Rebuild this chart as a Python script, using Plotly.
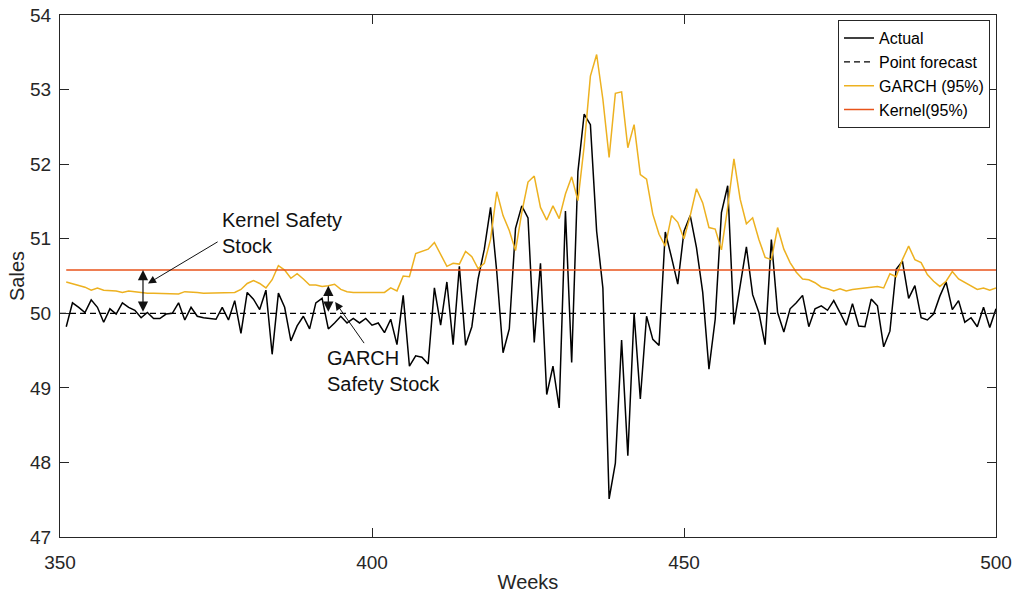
import plotly.graph_objects as go

weeks = list(range(351, 501))

actual = [
    49.82, 50.14, 50.08, 50.01, 50.18, 50.08, 49.88, 50.06, 49.99, 50.14,
    50.08, 50.04, 49.94, 50.01, 49.93, 49.93, 49.99, 50.00, 50.14, 49.91,
    50.08, 49.96, 49.94, 49.93, 49.92, 50.08, 49.91, 50.17, 49.73, 50.28,
    50.19, 50.05, 50.31, 49.45, 50.27, 50.08, 49.63, 49.83, 49.96, 49.79,
    50.14, 50.20, 49.79, 49.87, 49.96, 49.87, 49.93, 49.87, 49.93, 49.84,
    49.87, 49.74, 49.92, 49.58, 50.24, 49.29, 49.43, 49.41, 49.32, 50.34,
    49.84, 50.42, 49.58, 50.63, 49.57, 49.82, 50.46, 50.86, 51.42, 50.55,
    49.47, 49.79, 51.14, 51.44, 51.28, 49.61, 50.67, 48.91, 49.29, 48.73,
    51.37, 49.34, 51.90, 52.67, 52.53, 51.10, 50.34, 47.51, 47.99, 49.64,
    48.09, 50.00, 48.85, 49.96, 49.65, 49.57, 51.09, 50.75, 50.39, 51.10,
    51.31, 50.88, 50.28, 49.25, 49.92, 51.35, 51.71, 49.85, 50.37, 50.89,
    50.25, 50.01, 49.58, 50.99, 50.01, 49.75, 50.06, 50.14, 50.24, 49.82,
    50.06, 50.10, 50.04, 50.17, 50.01, 49.84, 50.13, 49.83, 49.82, 50.19,
    50.10, 49.55, 49.76, 50.59, 50.70, 50.20, 50.37, 49.94, 49.91, 49.99,
    50.23, 50.42, 50.05, 50.17, 49.88, 49.94, 49.82, 50.08, 49.81, 50.06,
]

garch = [
    50.42, 50.40, 50.38, 50.35, 50.31, 50.34, 50.31, 50.31, 50.30, 50.28,
    50.30, 50.29, 50.28, 50.27, 50.27, 50.27, 50.27, 50.26, 50.26, 50.29,
    50.29, 50.28, 50.27, 50.27, 50.27, 50.27, 50.28, 50.28, 50.32, 50.40,
    50.44, 50.40, 50.34, 50.45, 50.64, 50.58, 50.47, 50.53, 50.46, 50.38,
    50.38, 50.36, 50.37, 50.39, 50.32, 50.29, 50.28, 50.28, 50.28, 50.28,
    50.29, 50.28, 50.34, 50.30, 50.50, 50.49, 50.80, 50.83, 50.86, 50.95,
    50.79, 50.63, 50.67, 50.66, 50.83, 50.76, 50.60, 50.67, 50.99, 51.63,
    51.31, 51.11, 50.84, 51.35, 51.76, 51.84, 51.42, 51.25, 51.44, 51.27,
    51.60, 51.83, 51.51, 52.24, 53.18, 53.47, 52.87, 52.09, 52.95, 52.97,
    52.22, 52.53, 51.86, 51.80, 51.33, 51.06, 50.90, 51.31, 51.22, 51.00,
    51.31, 51.67, 51.48, 51.15, 51.13, 50.85, 51.42, 52.07, 51.53, 51.20,
    51.28, 50.99, 50.75, 50.72, 51.15, 50.86, 50.68, 50.55, 50.46, 50.45,
    50.41, 50.35, 50.33, 50.30, 50.33, 50.30, 50.32, 50.33, 50.34, 50.34,
    50.36, 50.34, 50.53, 50.49, 50.72, 50.90, 50.72, 50.68, 50.52, 50.43,
    50.36, 50.43, 50.56, 50.46, 50.41, 50.37, 50.32, 50.34, 50.31, 50.34,
]

point_forecast_level = 50.0
kernel_level = 50.58
forecast_weeks = [350, 500]

x_ticks = [350, 400, 450, 500]
y_ticks = [47, 48, 49, 50, 51, 52, 53, 54]

FONT = "Liberation Sans, Arial, Helvetica, sans-serif"
AX = "#262626"
TXT = "#111111"

fig = go.Figure()
fig.add_trace(go.Scatter(x=weeks, y=actual, mode="lines", name="Actual",
                         line=dict(color="black", width=1.5)))
fig.add_trace(go.Scatter(x=forecast_weeks, y=[point_forecast_level] * len(forecast_weeks),
                         mode="lines", name="Point forecast",
                         line=dict(color="black", width=1.3, dash="6px,4px")))
fig.add_trace(go.Scatter(x=weeks, y=garch, mode="lines", name="GARCH (95%)",
                         line=dict(color="#EDB120", width=1.5)))
fig.add_trace(go.Scatter(x=weeks, y=[kernel_level] * len(weeks), mode="lines",
                         name="Kernel(95%)", line=dict(color="#E8531A", width=1.6)))

annotations = []
# Kernel safety stock double arrow
ks_week = 363.3
annotations.append(dict(x=ks_week, y=kernel_level, ax=ks_week, ay=point_forecast_level,
                        xref="x", yref="y", axref="x", ayref="y", text="",
                        showarrow=True, arrowhead=2, startarrowhead=2, arrowside="end+start",
                        arrowsize=1.7, startarrowsize=1.7, arrowwidth=1.2, arrowcolor="#111"))
# Kernel label and pointer
annotations.append(dict(x=375.6, y=51.07, xref="x", yref="y", text="Kernel Safety<br>Stock",
                        showarrow=False, xanchor="left", yanchor="middle", align="left",
                        font=dict(family=FONT, size=20, color=TXT)))
annotations.append(dict(x=364.1, y=50.40, ax=375.5, ay=50.97, xref="x", yref="y",
                        axref="x", ayref="y", text="", showarrow=True, arrowhead=2,
                        arrowsize=1.6, arrowwidth=1, arrowcolor="#111"))
# GARCH safety stock double arrow
gs_week = 393
gs_top = garch[weeks.index(gs_week)]
annotations.append(dict(x=gs_week, y=gs_top, ax=gs_week, ay=point_forecast_level,
                        xref="x", yref="y", axref="x", ayref="y", text="",
                        showarrow=True, arrowhead=2, startarrowhead=2, arrowside="end+start",
                        arrowsize=1.7, startarrowsize=1.7, arrowwidth=1.2, arrowcolor="#111"))
annotations.append(dict(x=392.4, y=49.22, xref="x", yref="y", text="GARCH<br>Safety Stock",
                        showarrow=False, xanchor="left", yanchor="middle", align="left",
                        font=dict(family=FONT, size=20, color=TXT)))
annotations.append(dict(x=394.1, y=50.15, ax=398.9, ay=49.58, xref="x", yref="y",
                        axref="x", ayref="y", text="", showarrow=True, arrowhead=2,
                        arrowsize=1.6, arrowwidth=1, arrowcolor="#111"))

fig.update_layout(
    width=1014, height=593,
    margin=dict(l=60, r=18, t=15, b=56),
    paper_bgcolor="white", plot_bgcolor="white",
    font=dict(family=FONT, size=19, color=AX),
    showlegend=True,
    legend=dict(x=0.9936, y=0.99, xanchor="right", yanchor="top",
                bgcolor="white", bordercolor=AX, borderwidth=1,
                font=dict(family=FONT, size=16, color="black"),
                tracegroupgap=0, itemwidth=30),
    annotations=annotations,
)
fig.update_xaxes(range=[350, 500], tickvals=x_ticks, ticks="inside", ticklen=9,
                 showline=True, linecolor=AX, linewidth=1, mirror="ticks",
                 tickcolor=AX, showgrid=False, zeroline=False, automargin=False,
                 ticklabelstandoff=8,
                 title=dict(text="Weeks", font=dict(size=20, color=AX), standoff=4),
                 tickfont=dict(size=19, color=AX))
fig.update_yaxes(range=[47, 54], tickvals=y_ticks, ticks="inside", ticklen=9,
                 showline=True, linecolor=AX, linewidth=1, mirror="ticks",
                 tickcolor=AX, showgrid=False, zeroline=False, automargin=False,
                 ticklabelstandoff=4,
                 title=dict(text="Sales", font=dict(size=20, color=AX), standoff=0),
                 tickfont=dict(size=19, color=AX))

# Remove the page's default body margin so the figure sits at the window's corner.
fig.write_html("out.html",
               config={"displayModeBar": False},
               post_script="document.body.style.margin='0';document.body.style.overflow='hidden';")
